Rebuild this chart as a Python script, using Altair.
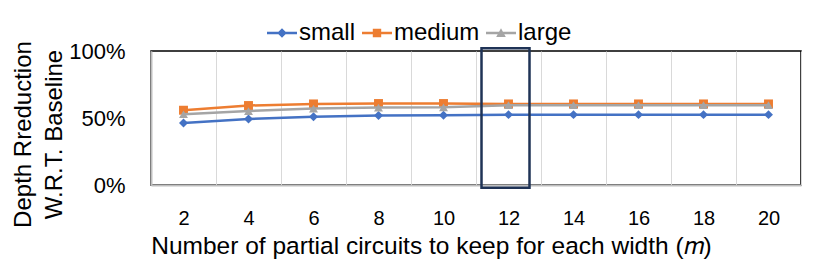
import altair as alt
import pandas as pd

# ---- data ----
m_values = [2, 4, 6, 8, 10, 12, 14, 16, 18, 20]
small = [0.463, 0.493, 0.510, 0.518, 0.520, 0.525, 0.525, 0.525, 0.525, 0.525]
medium = [0.558, 0.593, 0.605, 0.608, 0.608, 0.605, 0.605, 0.605, 0.605, 0.605]
large = [0.528, 0.552, 0.570, 0.578, 0.580, 0.596, 0.596, 0.596, 0.596, 0.596]

series_names = ["small", "medium", "large"]
series_colors = ["#4472C4", "#ED7D31", "#A5A5A5"]
marker_shapes = ["diamond", "square", "triangle-up"]
# legend glyphs: a short line with the marker on it (filled paths)
legend_paths = [
    "M-1,-0.08L1,-0.08L1,0.08L-1,0.08Z M0,-0.32L0.32,0L0,0.32L-0.32,0Z",
    "M-1,-0.08L1,-0.08L1,0.08L-1,0.08Z M-0.28,-0.28L0.28,-0.28L0.28,0.28L-0.28,0.28Z",
    "M-1,-0.08L1,-0.08L1,0.08L-1,0.08Z M0,-0.32L0.32,0.26L-0.32,0.26Z",
]

highlight_m = [12]
highlight_lo = [-0.02]
highlight_hi = [1.02]

y_ticks = [0, 0.5, 1]
x_title = "Number of partial circuits to keep for each width (𝑚)"
y_title = ["Depth Rreduction", "W.R.T. Baseline"]

FONT = "Liberation Sans"

rows = []
for name, vals in zip(series_names, [small, medium, large]):
    for mv, v in zip(m_values, vals):
        rows.append({"m": mv, "series": name, "value": v})
df = pd.DataFrame(rows)

hl = pd.DataFrame({"m": highlight_m, "lo": highlight_lo, "hi": highlight_hi})

x_scale = alt.Scale(type="band", paddingInner=0, paddingOuter=0, domain=m_values)
y_scale = alt.Scale(domain=[0, 1], nice=False, zero=False)

x_axis = alt.Axis(
    title=x_title, labelAngle=0, labelFontSize=20, labelPadding=23, ticks=False,
    tickBand="extent", grid=True, gridColor="#D9D9D9", gridWidth=1,
    domainColor="#BFBFBF", domainWidth=2, titleFontSize=24.5, titleFontWeight="normal",
    titleBaseline="alphabetic", titleY=68, titleX=280, titleAlign="center",
    labelColor="black", titleColor="black",
)
y_axis = alt.Axis(
    values=y_ticks, format="%", grid=False, ticks=False, labelFontSize=22,
    labelPadding=26, domainColor="#BFBFBF", domainWidth=2, title=y_title,
    titleFontSize=24, titleFontWeight="normal", titleLineHeight=31,
    titleBaseline="alphabetic", titleAlign="center", titleAngle=270,
    titleX=-121, titleY=83,
    labelColor="black", titleColor="black",
)

x_enc = alt.X("m:O", scale=x_scale, axis=x_axis)
y_enc = alt.Y("value:Q", scale=y_scale, axis=y_axis)

series_layers = []
for name, col, shp in zip(series_names, series_colors, marker_shapes):
    base = alt.Chart(df).transform_filter(alt.datum.series == name)
    series_layers.append(base.mark_line(color=col, strokeWidth=2.5).encode(x=x_enc, y=y_enc))
    series_layers.append(
        base.mark_point(filled=True, opacity=1, size=80, shape=shp, color=col).encode(x=x_enc, y=y_enc)
    )

leg = alt.Legend(
    title=None, orient="none", legendX=116, legendY=-33, direction="horizontal",
    labelFontSize=24, labelColor="black", labelFont=FONT, symbolSize=900,
    symbolStrokeWidth=0, symbolOpacity=1, columnPadding=6, labelOffset=2, padding=0,
)
legend_layer = alt.Chart(df).mark_point(filled=True, opacity=0).encode(
    x=x_enc, y=y_enc,
    color=alt.Color("series:N", scale=alt.Scale(domain=series_names, range=series_colors), legend=leg),
    shape=alt.Shape("series:N", scale=alt.Scale(domain=series_names, range=legend_paths), legend=leg),
)

box = alt.Chart(hl).mark_bar(
    filled=False, stroke="#1F3356", strokeWidth=2.5, width=48, xOffset=-3, clip=False
).encode(x=alt.X("m:O", scale=x_scale), y=alt.Y("lo:Q", scale=y_scale), y2="hi:Q")

chart = (
    alt.layer(*series_layers, legend_layer, box)
    .properties(
        width=650, height=134,
        autosize=alt.AutoSizeParams(type="none"),
        padding={"left": 143, "top": 43, "right": 20, "bottom": 75},
    )
    .configure(font=FONT)
    .configure_view(stroke="black", strokeWidth=1.5)
)

chart.save("out.html", embed_options={"renderer": "svg", "actions": False})
